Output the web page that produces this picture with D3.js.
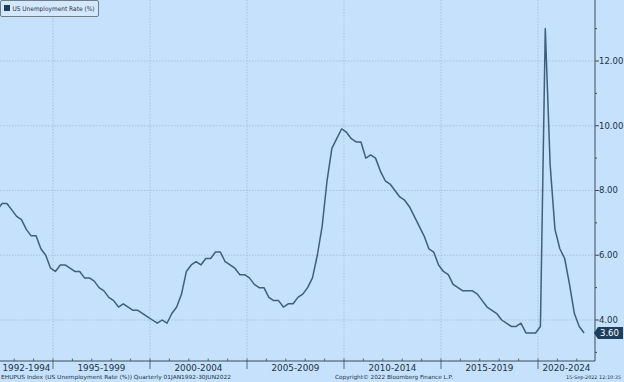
<!DOCTYPE html>
<html><head><meta charset="utf-8">
<script src="https://cdn.jsdelivr.net/npm/d3@7"></script>
<style>
html,body{margin:0;padding:0;background:#c5e1fb;}
svg{display:block;}
text{font-family:"DejaVu Sans",Verdana,sans-serif;}
</style></head>
<body>
<svg id="chart" width="624" height="382"></svg>
<script>
// ---- data ----
const years = [1992,1993,1994,1995,1996,1997,1998,1999,2000,2001,2002,2003,2004,2005,2006,2007,2008,2009,2010,2011,2012,2013,2014,2015,2016,2017,2018,2019,2020,2021,2022];
// quarterly US unemployment rate (%), Q1..Q4 per year
const rates = [
  [7.4,7.6,7.6,7.4],[7.2,7.1,6.8,6.6],[6.6,6.2,6.0,5.6],[5.5,5.7,5.7,5.6],
  [5.5,5.5,5.3,5.3],[5.2,5.0,4.9,4.7],[4.6,4.4,4.5,4.4],[4.3,4.3,4.2,4.1],
  [4.0,3.9,4.0,3.9],[4.2,4.4,4.8,5.5],[5.7,5.8,5.7,5.9],[5.9,6.1,6.1,5.8],
  [5.7,5.6,5.4,5.4],[5.3,5.1,5.0,5.0],[4.7,4.6,4.6,4.4],[4.5,4.5,4.7,4.8],
  [5.0,5.3,6.0,6.9],[8.3,9.3,9.6,9.9],[9.8,9.6,9.5,9.5],[9.0,9.1,9.0,8.6],
  [8.3,8.2,8.0,7.8],[7.7,7.5,7.2,6.9],[6.6,6.2,6.1,5.7],[5.5,5.4,5.1,5.0],
  [4.9,4.9,4.9,4.8],[4.6,4.4,4.3,4.2],[4.0,3.9,3.8,3.8],[3.9,3.6,3.6,3.6],
  [3.8,13.0,8.8,6.8],[6.2,5.9,5.1,4.2],[3.8,3.6]
];
const periodLabels = ["1992-1994","1995-1999","2000-2004","2005-2009","2010-2014","2015-2019","2020-2024"];
const periodStarts = [1992,1995,2000,2005,2010,2015,2020];
const periodEnds   = [1995,2000,2005,2010,2015,2020,2025];
const yTicks = [4,6,8,10,12];
const yMinor = [3,5,7,9,11,13];
const lastValue = 3.60;
const seriesName = "US Unemployment Rate (%)";
const footerLeft = "EHUPUS Index (US Unemployment Rate (%))  Quarterly 01JAN1992-30JUN2022";
const footerMid = "Copyright\u00A9 2022 Bloomberg Finance L.P.";
const footerRight = "15-Sep-2022 12:10:35";

// ---- layout ----
const W = 624, H = 382;
const plotR = 595, plotB = 361;
const svg = d3.select("#chart");

const points = [];
years.forEach((y, i) => rates[i].forEach((v, q) => points.push({t: y + (q + 0.5) / 4, v})));

const x = d3.scaleLinear().domain([1995, 2020]).range([53, 538]);
const y = d3.scaleLinear().domain([4, 12]).range([320, 61]);

svg.append("rect").attr("width", W).attr("height", H).attr("fill", "#c5e1fb");

// gridlines
svg.append("g").selectAll("line").data(yTicks).join("line")
  .attr("x1", 0).attr("x2", plotR).attr("y1", d => y(d)).attr("y2", d => y(d))
  .attr("stroke", "#a3bbd0").attr("stroke-width", 0.8).attr("stroke-dasharray", "1.5,1.5");
svg.append("g").selectAll("line").data(periodStarts.slice(1)).join("line")
  .attr("x1", d => x(d)).attr("x2", d => x(d)).attr("y1", 0).attr("y2", plotB)
  .attr("stroke", "#a3bbd0").attr("stroke-width", 0.8).attr("stroke-dasharray", "1.5,1.5");

// line
const line = d3.line().x(d => x(d.t)).y(d => y(d.v));
svg.append("path").datum(points).attr("d", line)
  .attr("fill", "none").attr("stroke", "#3e5f7e").attr("stroke-width", 1.5)
  .attr("stroke-linejoin", "round");

// axes
const axisCol = "#3b4c5c";
svg.append("line").attr("x1", plotR).attr("x2", plotR).attr("y1", 0).attr("y2", plotB)
  .attr("stroke", axisCol).attr("stroke-width", 1);
svg.append("line").attr("x1", 0).attr("x2", plotR).attr("y1", plotB).attr("y2", plotB)
  .attr("stroke", axisCol).attr("stroke-width", 1);

// right axis ticks
const ya = svg.append("g");
ya.selectAll("line.maj").data(yTicks).join("line").attr("class", "maj")
  .attr("x1", plotR).attr("x2", plotR + 4).attr("y1", d => y(d)).attr("y2", d => y(d))
  .attr("stroke", axisCol);
ya.selectAll("line.min").data(yMinor).join("line").attr("class", "min")
  .attr("x1", plotR).attr("x2", plotR + 2).attr("y1", d => y(d)).attr("y2", d => y(d))
  .attr("stroke", axisCol);
ya.selectAll("text").data(yTicks).join("text")
  .attr("x", plotR + 4).attr("y", d => y(d)).attr("dy", "0.35em")
  .attr("font-size", 8.5).attr("fill", "#1d3146").text(d => d3.format(".2f")(d));

// bottom axis
const xa = svg.append("g");
const yearTicks = d3.range(1992, 2023);
xa.selectAll("line.yr").data(yearTicks).join("line").attr("class", "yr")
  .attr("x1", d => x(d)).attr("x2", d => x(d)).attr("y1", plotB - 2.5).attr("y2", plotB)
  .attr("stroke", axisCol).attr("stroke-width", 0.8);
xa.selectAll("line.sep").data(periodStarts.slice(1)).join("line").attr("class", "sep")
  .attr("x1", d => x(d)).attr("x2", d => x(d)).attr("y1", plotB).attr("y2", plotB + 8)
  .attr("stroke", axisCol).attr("stroke-width", 0.8);
xa.selectAll("text").data(periodLabels).join("text")
  .attr("x", (d, i) => (Math.max(0, x(periodStarts[i])) + Math.min(plotR, x(periodEnds[i]))) / 2)
  .attr("y", plotB + 9.5).attr("text-anchor", "middle")
  .attr("font-size", 8.8).attr("fill", "#1d3146").text(d => d);

// footer
svg.append("text").attr("x", 1).attr("y", 378.5).attr("font-size", 5.6).attr("fill", "#1d3146")
  .attr("textLength", 230).attr("lengthAdjust", "spacingAndGlyphs").text(footerLeft);
svg.append("text").attr("x", 335).attr("y", 378.5).attr("font-size", 5.6).attr("fill", "#1d3146")
  .attr("textLength", 118).attr("lengthAdjust", "spacingAndGlyphs").text(footerMid);
svg.append("text").attr("x", 621).attr("y", 378.5).attr("text-anchor", "end")
  .attr("font-size", 4.9).attr("fill", "#1d3146").text(footerRight);

// last value tag
const ly = y(lastValue);
svg.append("path")
  .attr("d", `M${plotR - 1},${ly} L${plotR + 3},${ly - 6} L${623},${ly - 6} L${623},${ly + 6} L${plotR + 3},${ly + 6} Z`)
  .attr("fill", "#1f3e5e");
svg.append("text").attr("x", plotR + 5).attr("y", ly).attr("dy", "0.35em")
  .attr("font-size", 8.5).attr("fill", "#ffffff").text(d3.format(".2f")(lastValue));

// legend
const lg = svg.append("g");
lg.append("rect").attr("x", 0.5).attr("y", 0.5).attr("width", 98).attr("height", 16)
  .attr("fill", "#d3e8fc").attr("stroke", "#6f7d8a").attr("stroke-width", 1).attr("rx", 1.5);
lg.append("rect").attr("x", 4).attr("y", 5).attr("width", 6).attr("height", 6).attr("fill", "#1f3e5e");
lg.append("text").attr("x", 12.5).attr("y", 8.5).attr("dy", "0.35em")
  .attr("font-size", 6.4).attr("fill", "#1d3146")
  .attr("textLength", 82).attr("lengthAdjust", "spacingAndGlyphs").text(seriesName);
</script>
</body></html>
